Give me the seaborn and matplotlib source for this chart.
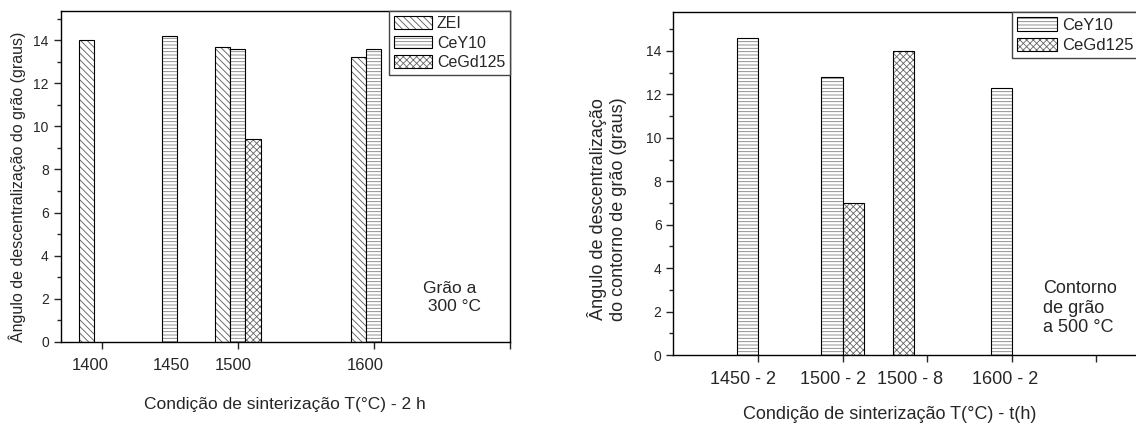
import numpy as np
import pandas as pd
import matplotlib
matplotlib.use("Agg")
import matplotlib.pyplot as plt
import seaborn as sns
from matplotlib.patches import Patch
from matplotlib.ticker import MultipleLocator

# ---------------- data ----------------
# Left panel: grain at 300 °C, sintering T(°C) - 2 h
temps_a = [1400, 1450, 1500, 1600]
labels_a = ["1400", "1450", "1500", "1600"]
zei_a = [14.0, None, 13.7, 13.2]
cey10_a = [None, 14.2, 13.6, 13.6]
cegd125_a = [None, None, 9.4, None]
series_a = ["ZEI", "CeY10", "CeGd125"]

# Right panel: grain boundary at 500 °C, sintering T(°C) - t(h)
cond_b = ["1450 - 2", "1500 - 2", "1500 - 8", "1600 - 2"]
cey10_b = [14.6, 12.8, None, 12.3]
cegd125_b = [None, 7.0, 14.0, None]
series_b = ["CeY10", "CeGd125"]

# ---------------- layout / style (not data) ----------------
pos_b = [1.0, 2.0, 2.6, 4.0]            # group centres on the right x axis
lab_x_a = [1392, 1451, 1497, 1594]      # category label positions (left)
lab_x_b = [0.82, 1.89, 2.80, 3.92]      # category label positions (right)
hatches = {"ZEI": "\\\\\\\\\\", "CeY10": "-----", "CeGd125": "xxxxx"}
hatch_cols = {"ZEI": (0.35, 0.35, 0.35, 1), "CeY10": (0.5, 0.5, 0.5, 1),
              "CeGd125": (0.4, 0.4, 0.4, 1)}

sns.set_style("white")
plt.rcParams["font.family"] = ["Liberation Sans", "DejaVu Sans"]
plt.rcParams["hatch.linewidth"] = 0.6
plt.rcParams["axes.linewidth"] = 1.0

fig = plt.figure(figsize=(11.36, 4.37), dpi=100)
ax1 = fig.add_axes([0.0534, 0.2174, 0.3955, 0.7574])
ax2 = fig.add_axes([0.5927, 0.1876, 0.4096, 0.7842])


def long_frame(xvals, series, cols):
    rows = []
    for i, x in enumerate(xvals):
        for s, col in zip(series, cols):
            v = col[i]
            if v is not None:
                rows.append((x, s, v))
    return pd.DataFrame(rows, columns=["x", "serie", "angulo"])


df_a = long_frame(temps_a, series_a, [zei_a, cey10_a, cegd125_a])
df_b = long_frame(pos_b, series_b, [cey10_b, cegd125_b])

bar_w_a = 11.2   # data units per bar (left)
bar_w_b = 0.25   # data units per bar (right)
w_a = bar_w_a * len(series_a) / np.min(np.diff(sorted(temps_a)))
w_b = bar_w_b * len(series_b) / np.min(np.diff(sorted(pos_b)))


def style_patch(p, s):
    p.set_hatch(hatches[s])
    p.set_edgecolor("black")
    p._hatch_color = hatch_cols[s]


def draw(ax, df, series, width):
    sns.barplot(data=df, x="x", y="angulo", hue="serie", hue_order=series,
                native_scale=True, dodge=True, width=width, errorbar=None,
                palette={s: "white" for s in series}, edgecolor="black",
                linewidth=0.8, legend=False, ax=ax)
    for cont, s in zip(ax.containers, series):
        for bar in cont:
            style_patch(bar, s)


draw(ax1, df_a, series_a, w_a)
draw(ax2, df_b, series_b, w_b)


def style_axes(ax, xlim, ylim, xticks):
    ax.set_xlim(*xlim)
    ax.set_ylim(*ylim)
    ax.set_xticks(xticks)
    ax.set_xticklabels([])
    ax.yaxis.set_major_locator(MultipleLocator(2))
    ax.yaxis.set_minor_locator(MultipleLocator(1))
    ax.tick_params(axis="y", which="major", direction="out", length=5, width=1.0,
                   labelsize=10, left=True, pad=3.5)
    ax.tick_params(axis="y", which="minor", direction="out", length=3, width=1.0, left=True)
    ax.tick_params(axis="x", which="major", direction="out", length=5, width=1.0, bottom=True)
    ax.tick_params(axis="x", which="minor", bottom=False)
    for sp in ax.spines.values():
        sp.set_visible(True)
        sp.set_color("black")
        sp.set_linewidth(1.0)


style_axes(ax1, (1370, 1700), (0, 15.35), [1400, 1500, 1600, 1700])
style_axes(ax2, (0, 5.5), (0, 15.78), [1, 2, 3, 4, 5])

# category labels
for x, t in zip(lab_x_a, labels_a):
    ax1.text(x, -0.0725, t, transform=ax1.get_xaxis_transform(),
             ha="center", va="center", fontsize=12)
for x, t in zip(lab_x_b, cond_b):
    ax2.text(x, -0.070, t, transform=ax2.get_xaxis_transform(),
             ha="center", va="center", fontsize=13)

# axis labels
ax1.set_xlabel("Condição de sinterização T(°C) - 2 h", fontsize=12.5)
ax1.xaxis.set_label_coords(0.499, -0.190)
ax1.xaxis.label.set_va("center")
ax1.set_ylabel("Ângulo de descentralização do grão (graus)", fontsize=11.5)
ax1.yaxis.set_label_coords(-0.097, 0.468)
ax1.yaxis.label.set_va("center")

ax2.set_xlabel("Condição de sinterização T(°C) - t(h)", fontsize=13)
ax2.xaxis.set_label_coords(0.466, -0.175)
ax2.xaxis.label.set_va("center")
ax2.set_ylabel("Ângulo de descentralização\ndo contorno de grão (graus)",
               fontsize=13, linespacing=1.2)
ax2.yaxis.set_label_coords(-0.1425, 0.426)
ax2.yaxis.label.set_va("center")

# annotations
ax1.text(0.806, 0.134, "Grão a\n 300 °C", transform=ax1.transAxes,
         ha="left", va="center", fontsize=12.5, linespacing=1.2)
ax2.text(0.7946, 0.137, "Contorno\nde grão\na 500 °C", transform=ax2.transAxes,
         ha="left", va="center", fontsize=13, linespacing=1.18)


def make_legend(ax, series, fs):
    handles = []
    for s in series:
        p = Patch(facecolor="white", edgecolor="black", linewidth=0.8, label=s)
        style_patch(p, s)
        handles.append(p)
    leg = ax.legend(handles=handles, loc="upper right", bbox_to_anchor=(1, 1),
                    borderaxespad=0, fancybox=False, framealpha=1, edgecolor="#444444",
                    fontsize=fs, handlelength=2.4, handleheight=0.85,
                    handletextpad=0.3, borderpad=0.3, labelspacing=0.3)
    leg.get_frame().set_linewidth(1.0)
    return leg


make_legend(ax1, series_a, 11.5)
make_legend(ax2, series_b, 12)

fig.savefig("out.png", dpi=100)
